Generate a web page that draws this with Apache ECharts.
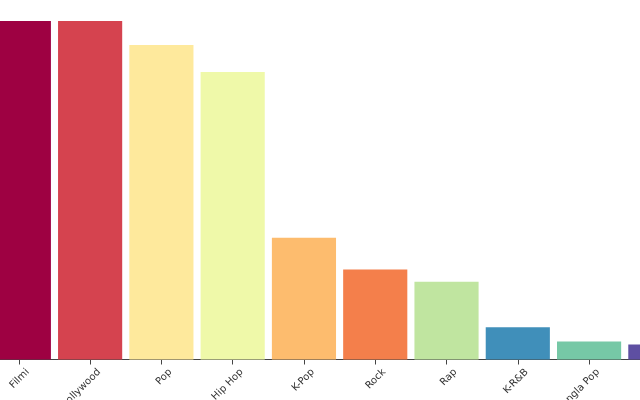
<!DOCTYPE html>
<html>
<head>
<meta charset="utf-8">
<script src="https://cdn.jsdelivr.net/npm/echarts@6/dist/echarts.min.js"></script>
<style>
html,body{margin:0;padding:0;background:#fff;}
#c{width:640px;height:400px;}
</style>
</head>
<body>
<div id="c"></div>
<script>
var categories = ['Filmi', 'Bollywood', 'Pop', 'Hip Hop', 'K-Pop', 'Rock', 'Rap', 'K-R&B', 'Bangla Pop', 'Indie'];
var values = [100, 100, 92.9, 84.9, 36.0, 26.6, 23.0, 9.5, 5.3, 4.4];
var colors = ['#9e0142', '#d5434f', '#fee99c', '#eff9a9', '#fdbc6e', '#f47f4b', '#c0e5a0', '#408fba', '#76c8a6', '#5e4fa2'];

var chart = echarts.init(document.getElementById('c'), null, {renderer: 'canvas'});
var gridL = -16.8, gridR = -56, shift = 9;
chart.setOption({
  animation: false,
  backgroundColor: '#ffffff',
  grid: [
    {left: gridL, right: gridR, top: 21, bottom: 40.5, containLabel: false, outerBoundsMode: 'none'},
    {left: gridL + shift, right: gridR - shift, top: 21, bottom: 40.5, containLabel: false, outerBoundsMode: 'none'}
  ],
  xAxis: [
    {
      type: 'category', gridIndex: 0, data: categories,
      axisLine: {show: true, lineStyle: {color: '#444', width: 1.2}},
      axisTick: {show: true, interval: 0, alignWithLabel: true, length: 5, lineStyle: {color: '#444', width: 1}},
      axisLabel: {show: false, interval: 0}
    },
    {
      type: 'category', gridIndex: 1, data: categories,
      axisLine: {show: false}, axisTick: {show: false},
      axisLabel: {show: true, interval: 0, rotate: 45, margin: 11, fontSize: 10,
        fontFamily: 'DejaVu Sans', color: '#333', hideOverlap: false, overflow: 'none'}
    }
  ],
  yAxis: [
    {type: 'value', gridIndex: 0, min: 0, max: values[0], show: false, splitLine: {show: false}},
    {type: 'value', gridIndex: 1, min: 0, max: values[0], show: false, splitLine: {show: false}}
  ],
  series: [{
    type: 'bar',
    xAxisIndex: 0, yAxisIndex: 0,
    barCategoryGap: '10%',
    data: values.map(function (v, i) { return {value: v, itemStyle: {color: colors[i]}}; })
  }]
});
</script>
</body>
</html>
